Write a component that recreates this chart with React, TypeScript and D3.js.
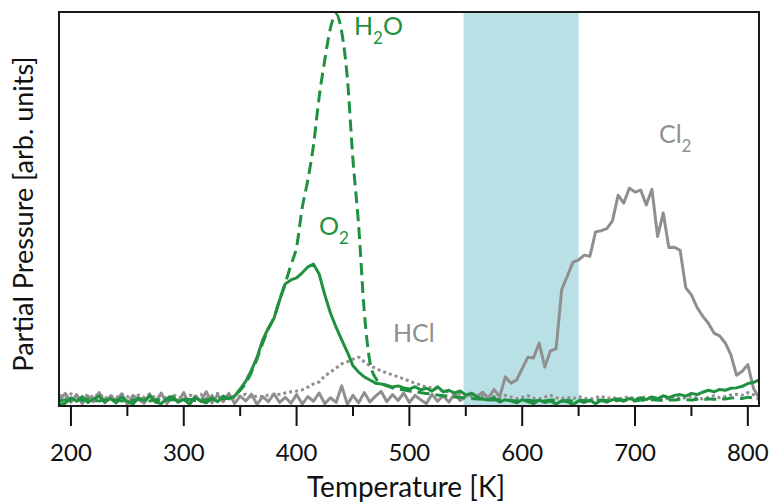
import React from 'react';
import * as d3 from 'd3';

// temperature sampling (K), one reading every 5 K from 190 to 810
const temps = d3.range(190, 811, 5);

const o2 = [
  0.4, 0.7, 2.1, 1.2, 2.4, 0.9, 1.8, 2.5, 1.0, 1.9,
  0.8, 2.3, 1.2, 0.5, 2.1, 1.4, 2.6, 1.0, 0.6, 1.9,
  2.4, 1.0, 1.7, 0.5, 2.2, 1.2, 0.8, 2.1, 1.1, 2.5,
  1.8, 2.5, 4.3, 6.3, 9.1, 12.4, 16.8, 19.8, 22.3, 26.9,
  31.0, 32.0, 32.5, 33.8, 35.3, 36.0, 33.5, 28.2, 23.6, 20.0,
  16.8, 13.7, 10.2, 8.6, 7.4, 6.6, 5.8, 5.6, 5.3, 4.8,
  5.1, 4.6, 4.3, 4.9, 4.1, 4.5, 3.8, 4.9, 3.6, 4.0,
  3.3, 3.8, 2.8, 3.2, 2.3, 1.8, 1.5, 2.1, 1.0, 1.6,
  1.3, 0.8, 1.6, 1.1, 0.6, 1.5, 0.9, 1.3, 0.5, 1.3,
  1.1, 0.4, 1.3, 0.9, 1.5, 0.6, 1.4, 1.0, 1.6, 1.8,
  1.2, 1.9, 1.5, 2.1, 1.6, 2.3, 1.8, 2.6, 2.1, 2.7,
  2.9, 2.5, 3.2, 2.9, 3.5, 4.0, 3.6, 4.2, 4.0, 4.5,
  4.6, 5.0, 5.7, 6.0, 6.6,
];

const h2o = [
  1.2, 1.5, 1.3, 1.6, 1.4, 1.7, 1.5, 1.3, 1.6, 1.4,
  1.5, 1.3, 1.6, 1.4, 1.7, 1.5, 1.3, 1.6, 1.4, 1.5,
  1.6, 1.4, 1.5, 1.7, 1.4, 1.6, 1.5, 1.7, 1.8, 1.9,
  2.0, 2.6, 4.0, 5.8, 8.6, 12.0, 16.0, 19.5, 22.5, 27.0,
  31.2, 35.8, 40.4, 50.3, 57.4, 66.2, 78.4, 87.8, 95.9, 99.5,
  94.9, 83.2, 62.4, 45.9, 23.9, 11.2, 7.1, 5.8, 5.1, 4.6,
  4.3, 4.1, 3.8, 3.6, 3.4, 3.2, 3.0, 2.8, 2.6, 2.5,
  2.3, 2.2, 2.0, 1.9, 1.8, 1.7, 1.6, 1.5, 1.5, 1.4,
  1.4, 1.3, 1.4, 1.5, 1.3, 1.4, 1.3, 1.5, 1.4, 1.3,
  1.4, 1.3, 1.5, 1.4, 1.3, 1.4, 1.5, 1.4, 1.3, 1.4,
  1.5, 1.4, 1.3, 1.5, 1.4, 1.6, 1.5, 1.4, 1.6, 1.5,
  1.7, 1.6, 1.5, 1.7, 1.6, 1.8, 1.7, 1.9, 1.8, 2.0,
  2.1, 1.9, 2.2, 2.0, 1.8,
];

const hcl = [
  2.8, 2.0, 3.1, 2.3, 1.8, 2.9, 2.2, 3.2, 1.9, 2.6,
  2.1, 3.0, 2.4, 1.8, 2.8, 2.2, 3.1, 2.0, 2.6, 1.9,
  2.9, 2.2, 1.8, 2.8, 2.3, 3.0, 2.0, 2.6, 3.2, 2.2,
  2.7, 2.0, 2.5, 3.0, 2.1, 2.6, 2.3, 2.8, 2.8, 3.0,
  3.3, 3.6, 3.8, 4.1, 4.8, 5.6, 6.1, 7.6, 8.6, 9.6,
  10.7, 11.2, 11.9, 12.4, 11.2, 10.2, 9.6, 8.9, 8.4, 7.9,
  7.4, 6.9, 6.3, 5.8, 5.3, 4.8, 4.6, 4.3, 3.8, 3.6,
  3.3, 3.0, 2.8, 2.5, 2.2, 2.6, 2.0, 2.4, 2.1, 2.7,
  2.3, 1.9, 2.2, 2.6, 2.0, 1.8, 2.3, 2.7, 2.1, 1.9,
  2.2, 1.8, 2.4, 2.0, 1.7, 2.1, 2.5, 1.9, 2.2, 1.8,
  2.0, 2.4, 1.8, 2.1, 2.3, 1.9, 2.2, 1.7, 2.0, 2.4,
  1.9, 2.1, 2.5, 2.0, 1.8, 2.2, 2.6, 2.1, 2.4, 2.8,
  3.0, 2.7, 3.4, 2.9, 1.6,
];

const cl2 = [
  1.6, 3.2, 1.0, 2.9, 0.6, 2.6, 1.1, 3.4, 0.8, 2.5,
  1.3, 3.1, 0.4, 2.7, 1.6, 0.7, 2.9, 1.0, 3.3, 0.6,
  2.3, 1.0, 3.4, 0.3, 2.5, 1.3, 3.6, 0.8, 2.8, 1.1,
  3.2, 0.6, 2.5, 1.3, 3.0, 0.4, 2.4, 1.1, 3.1, 0.9,
  2.2, 0.7, 2.9, 0.5, 2.4, 1.2, 3.3, 0.6, 2.1, 0.9,
  5.1, 0.4, 2.7, 0.8, 3.4, 1.0, 2.5, 3.7, 1.1, 2.9,
  1.4, 3.3, 0.9, 2.7, 1.6, 0.6, 3.0, 1.2, 2.6, 1.0,
  3.1, 1.4, 2.4, 3.3, 2.5, 3.5, 2.0, 4.2, 2.3, 7.4,
  5.8, 6.6, 9.5, 12.4, 12.2, 16.0, 9.9, 14.0, 14.5, 29.5,
  33.0, 36.5, 37.1, 38.3, 38.0, 44.2, 44.5, 45.0, 47.0, 53.5,
  51.5, 55.3, 54.3, 54.8, 51.0, 55.0, 43.0, 49.0, 40.2, 40.3,
  39.5, 30.0, 28.2, 25.0, 22.8, 21.0, 18.5, 17.8, 16.0, 13.0,
  7.8, 8.8, 10.5, 4.5, 2.0,
];

const majorTicks = [200, 300, 400, 500, 600, 700, 800];
const minorTicks = [250, 350, 450, 550, 650, 750];
const band = [548, 650];

const GREEN = '#1f9140';
const GRAY = '#8f8f8f';
const FONT = 'Lato, "Open Sans", sans-serif';

export default function App() {
  const width = 771;
  const height = 503;
  const frame = { left: 59, right: 759, top: 12, bottom: 406 };

  const x = d3.scaleLinear().domain([189.4, 809.9]).range([frame.left, frame.right]);
  const y = d3.scaleLinear().domain([0, 100]).range([frame.bottom, frame.top]);

  const pts = (vals: number[]) => temps.map((t, i) => [t, vals[i]] as [number, number]);
  const jagged = d3.line<[number, number]>().x(d => x(d[0])).y(d => y(d[1]));
  const smooth = d3.line<[number, number]>().x(d => x(d[0])).y(d => y(d[1])).curve(d3.curveMonotoneX);

  return (
    <svg width={width} height={height} style={{ position: 'absolute', left: 0, top: 0 }}
      fontFamily={FONT}>
      <defs>
        <clipPath id="plot">
          <rect x={frame.left} y={frame.top} width={frame.right - frame.left} height={frame.bottom - frame.top} />
        </clipPath>
      </defs>
      <rect width={width} height={height} fill="#fff" />

      {/* shaded temperature window */}
      <rect x={x(band[0])} y={frame.top} width={x(band[1]) - x(band[0])}
        height={frame.bottom - frame.top} fill="#b9e1e5" />

      <g clipPath="url(#plot)" fill="none" strokeLinejoin="round">
        <path d={jagged(pts(cl2)) ?? ''} stroke={GRAY} strokeWidth={3} />
        <path d={jagged(pts(hcl)) ?? ''} stroke={GRAY} strokeWidth={3} strokeDasharray="3,3" />
        <path d={smooth(pts(h2o)) ?? ''} stroke={GREEN} strokeWidth={3} strokeDasharray="12,6" />
        <path d={jagged(pts(o2)) ?? ''} stroke={GREEN} strokeWidth={3} />
      </g>

      <rect x={frame.left} y={frame.top} width={frame.right - frame.left} height={frame.bottom - frame.top}
        fill="none" stroke="#1a1a1a" strokeWidth={2} />

      {majorTicks.map(t => (
        <g key={t}>
          <line x1={x(t)} x2={x(t)} y1={frame.bottom} y2={frame.bottom + 20} stroke="#111" strokeWidth={2} />
          <text x={x(t)} y={461} textAnchor="middle" fontSize={24} fill="#111">{t}</text>
        </g>
      ))}
      {minorTicks.map(t => (
        <line key={t} x1={x(t)} x2={x(t)} y1={frame.bottom} y2={frame.bottom + 10} stroke="#111" strokeWidth={2} />
      ))}

      <text x={406} y={497} textAnchor="middle" fontSize={28} fill="#111">Temperature [K]</text>
      <text transform="translate(33,214) rotate(-90)" textAnchor="middle" fontSize={27} fill="#111">
        Partial Pressure [arb. units]
      </text>

      {/* species labels */}
      <text x={354} y={35} fontSize={25} fill={GREEN}>
        H<tspan fontSize={17} dy={9}>2</tspan><tspan dy={-9}>O</tspan>
      </text>
      <text x={319} y={235} fontSize={25} fill={GREEN}>
        O<tspan fontSize={17} dy={9}>2</tspan>
      </text>
      <text x={393} y={342} fontSize={25} fill={GRAY}>HCl</text>
      <text x={659} y={143} fontSize={25} fill={GRAY}>
        Cl<tspan fontSize={17} dy={9}>2</tspan>
      </text>
    </svg>
  );
}
